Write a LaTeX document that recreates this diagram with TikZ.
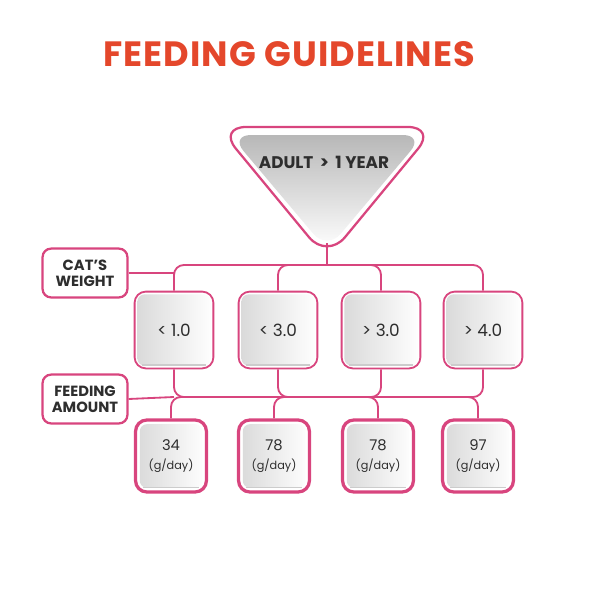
\documentclass[tikz,border=0pt]{standalone}
\usepackage{fontspec}
\setmainfont{Poppins}
\usetikzlibrary{positioning, calc}
\definecolor{rosepink}{HTML}{D8457E}
\definecolor{titlered}{HTML}{E4472B}
\definecolor{inkgray}{HTML}{2E2E2E}

\begin{document}
\begin{tikzpicture}[
    x=0.025cm, y=-0.025cm,
    font=\fontsize{10}{12}\selectfont\color{inkgray},
    wire/.style={rosepink, line width=1.3pt, rounded corners=7pt},
    tagbox/.style={rectangle, draw=rosepink, line width=1.6pt, fill=white, rounded corners=6pt, minimum width=2.12cm, minimum height=1.22cm, align=center, font=\fontsize{10.5}{11.5}\selectfont\bfseries\color{inkgray}},
    greyfill/.style={path picture={
        \shade[left color=black!15, right color=white, rounded corners=5pt]
            ([shift={(#1,-#1)}]path picture bounding box.north west) rectangle
            ([shift={(-#1,#1)}]path picture bounding box.south east);
        \draw[black!20, line width=1pt]
            ([shift={(5pt,#1+0.4pt)}]path picture bounding box.south west) --
            ([shift={(-5pt,#1+0.4pt)}]path picture bounding box.south east);
    }},
    weightbox/.style={rectangle, draw=rosepink, line width=1.3pt, fill=white, rounded corners=8pt, minimum width=1.97cm, minimum height=1.92cm, align=center, greyfill=2pt, font=\fontsize{12}{14}\selectfont\color{inkgray}},
    amountbox/.style={rectangle, draw=rosepink, line width=2.3pt, fill=white, rounded corners=8pt, minimum width=1.77cm, minimum height=1.8cm, align=center, greyfill=3pt, font=\fontsize{10.5}{13}\selectfont\color{inkgray}}
]
\useasboundingbox (0,0) rectangle (600,600);

% ==================== TITLE ====================
\node[font=\fontsize{25}{29}\selectfont\bfseries\addfontfeatures{LetterSpace=3}\color{titlered}] (title) at (289,54) {FEEDING GUIDELINES};

% ==================== AGE TRIANGLE ====================
\draw[rosepink, line width=1.6pt, fill=white, rounded corners=20pt] (218,127) -- (436,127) -- (327,259) -- cycle;
\shade[top color=black!28, bottom color=white, rounded corners=15pt] (230,135) -- (424,135) -- (327,250) -- cycle;
\node[font=\fontsize{12}{14}\selectfont\bfseries\color{inkgray}] (adult) at (324,162) {ADULT \,>\, 1 YEAR};
\coordinate (apex) at (327,243);

% ==================== NODES ====================
\node[tagbox] (catweight) at (85,273) {CAT'S\\WEIGHT};
\node[tagbox] (feeding) at (85,399) {FEEDING\\AMOUNT};

\node[weightbox] (w1) at (174,330) {< 1.0};
\node[weightbox] (w2) at (278,330) {< 3.0};
\node[weightbox] (w3) at (381,330) {> 3.0};
\node[weightbox] (w4) at (483,330) {> 4.0};

\node[amountbox] (f1) at (171,456) {34\\{\fontsize{8}{9}\selectfont(g/day)}};
\node[amountbox] (f2) at (274,456) {78\\{\fontsize{8}{9}\selectfont(g/day)}};
\node[amountbox] (f3) at (378,456) {78\\{\fontsize{8}{9}\selectfont(g/day)}};
\node[amountbox] (f4) at (478,456) {97\\{\fontsize{8}{9}\selectfont(g/day)}};

% ==================== CONNECTORS ====================
\coordinate (topbus) at (327,265);
\coordinate (lowbus) at (327,397);

% Age to weights
\draw[wire] (apex) -- (topbus);
\draw[wire] (w1.north) |- (topbus) -| (w4.north);
\draw[wire] (w2.north) |- (topbus);
\draw[wire] (w3.north) |- (topbus);
\draw[wire] (catweight.east) -- (catweight.east -| w1.north);

% Weights to amounts
\draw[wire] (w1.south) |- (lowbus);
\draw[wire] (w2.south) |- (lowbus);
\draw[wire] (w3.south) |- (lowbus);
\draw[wire] (w4.south) |- (lowbus);
\draw[wire] (f1.north) |- (lowbus);
\draw[wire] (f2.north) |- (lowbus);
\draw[wire] (f3.north) |- (lowbus);
\draw[wire] (f4.north) |- (lowbus);
\draw[wire] (feeding.east) -- (lowbus -| w1.south);

\end{tikzpicture}
\end{document}
